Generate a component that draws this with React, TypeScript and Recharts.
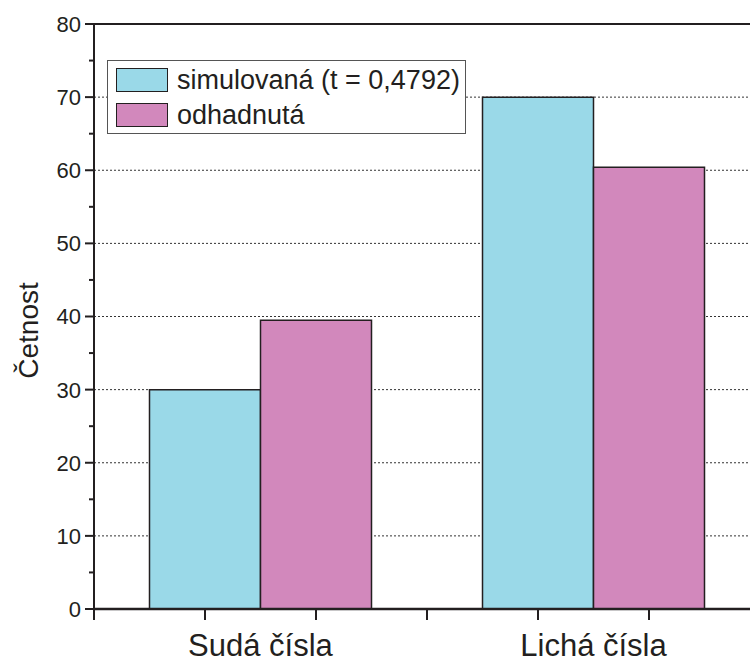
import { BarChart, Bar, XAxis, YAxis, CartesianGrid, Legend, Label } from 'recharts'

const categories = ['Sudá čísla', 'Lichá čísla']
const simulated = [30, 70]
const estimated = [39.5, 60.4]
const seriesNames = ['simulovaná (t = 0,4792)', 'odhadnutá']
const yTicks = [0, 5, 10, 15, 20, 25, 30, 35, 40, 45, 50, 55, 60, 65, 70, 75, 80]
const gridValues = [10, 20, 30, 40, 50, 60, 70]
const xTicks = [0, 1, 2, 3, 4, 5, 6]
const topTicks = [0, 0.5, 1, 1.5, 2, 2.5, 3, 3.5, 4, 4.5, 5, 5.5, 6]
// where each category label sits on the 0..6 scale
const categoryPos = [1.5, 4.5]

const CYAN = '#9ad9e8'
const PINK = '#d288bc'
const INK = '#231f20'
const FONT = "'Liberation Sans', Arial, Helvetica, sans-serif"

// one slot per column: sim at 1 / 4, estimate at 2 / 5, an empty slot between the groups
const barRows = [
  { slot: 1, sim: simulated[0] },
  { slot: 2, odh: estimated[0] },
  { slot: 3 },
  { slot: 4, sim: simulated[1] },
  { slot: 5, odh: estimated[1] },
]

const YTick = (props: any) => {
  const { x, y, payload } = props
  const major = payload.value % 10 === 0
  return (
    <g>
      <line x1={x - (major ? 9 : 5)} x2={x} y1={y} y2={y} stroke={INK} strokeWidth={2} />
      {major && (
        <text x={x - 13} y={y} dy="0.36em" textAnchor="end" fontSize={22} fontFamily={FONT} fill={INK}>
          {payload.value}
        </text>
      )}
    </g>
  )
}

const XTick = (props: any) => {
  const { x, y, payload } = props
  const idx = categoryPos.indexOf(payload.value)
  if (idx >= 0) {
    return (
      <text x={x} y={y + 47} textAnchor="middle" fontSize={31} fontFamily={FONT} fill={INK}>
        {categories[idx]}
      </text>
    )
  }
  return <line x1={x} x2={x} y1={y} y2={y + 11} stroke={INK} strokeWidth={2} />
}

const YTitle = (props: any) => {
  const { viewBox } = props
  const cx = 38
  const cy = viewBox.y + viewBox.height / 2 + 14
  return (
    <text x={cx} y={cy} transform={`rotate(-90, ${cx}, ${cy})`} textAnchor="middle" fontSize={28} fontFamily={FONT} fill={INK}>
      Četnost
    </text>
  )
}

const LegendBox = () => {
  const rows = [
    { name: seriesNames[0], color: CYAN },
    { name: seriesNames[1], color: PINK },
  ]
  return (
    <div
      style={{
        boxSizing: 'border-box',
        width: 359,
        height: 74,
        border: '1px solid #555',
        background: '#fff',
        padding: '1.5px 0 0 8px',
      }}
    >
      {rows.map((r) => (
        <div key={r.name} style={{ display: 'flex', alignItems: 'center', height: 35 }}>
          <div style={{ boxSizing: 'border-box', width: 52, height: 24, background: r.color, border: `1.5px solid ${INK}` }} />
          <span style={{ marginLeft: 9, fontSize: 27, fontFamily: FONT, color: INK, lineHeight: 1 }}>{r.name}</span>
        </div>
      ))}
    </div>
  )
}

export default function App() {
  return (
    <div style={{ position: 'absolute', left: 0, top: 0, width: 750, height: 662, overflow: 'hidden', background: '#fff' }}>
      <BarChart
        width={780}
        height={662}
        data={barRows}
        margin={{ top: 24, right: 20, left: 0, bottom: 0 }}
        barCategoryGap={0}
        barGap={0}
      >
        <CartesianGrid
          xAxisId="scale"
          vertical={false}
          horizontalValues={gridValues}
          stroke="#333"
          strokeDasharray="2 2"
          strokeWidth={1}
        />
        <XAxis xAxisId="cat" dataKey="slot" type="category" hide height={0} padding={{ left: 55.5, right: 55.5 }} />
        <XAxis
          xAxisId="scale"
          dataKey="slot"
          type="number"
          domain={[0, 6]}
          ticks={[...xTicks, ...categoryPos].sort((a, b) => a - b)}
          interval={0}
          height={53}
          tickSize={0}
          tickMargin={0}
          tickLine={false}
          axisLine={{ stroke: INK, strokeWidth: 2.5 }}
          tick={<XTick />}
          allowDataOverflow
        />
        <XAxis
          xAxisId="top"
          dataKey="slot"
          orientation="top"
          type="number"
          domain={[0, 6]}
          ticks={topTicks}
          interval={0}
          height={1}
          mirror
          tickSize={3}
          tick={false}
          tickLine={{ stroke: INK, strokeWidth: 1.5 }}
          axisLine={{ stroke: INK, strokeWidth: 2 }}
          allowDataOverflow
        />
        <YAxis
          domain={[0, 80]}
          ticks={yTicks}
          interval={0}
          width={94}
          tickSize={0}
          tickMargin={0}
          tickLine={false}
          axisLine={{ stroke: INK, strokeWidth: 2 }}
          tick={<YTick />}
        >
          <Label content={<YTitle />} />
        </YAxis>
        <Legend
          layout="vertical"
          align="center"
          verticalAlign="middle"
          content={<LegendBox />}
          wrapperStyle={{ left: 107, top: 60, width: 359, height: 74 }}
        />
        <Bar xAxisId="cat" dataKey="sim" name={seriesNames[0]} stackId="g" fill={CYAN} stroke={INK} strokeWidth={1.5} isAnimationActive={false} />
        <Bar xAxisId="cat" dataKey="odh" name={seriesNames[1]} stackId="g" fill={PINK} stroke={INK} strokeWidth={1.5} isAnimationActive={false} />
      </BarChart>
    </div>
  )
}
